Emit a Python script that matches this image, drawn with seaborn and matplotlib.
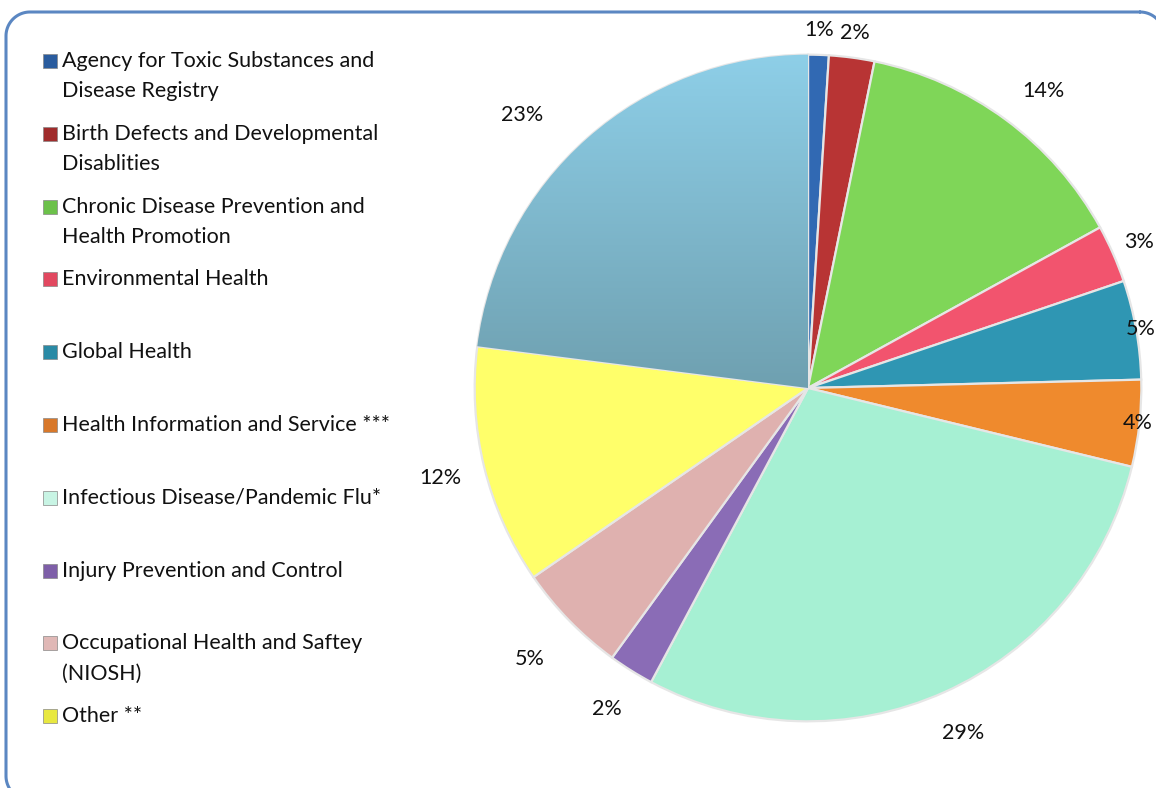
import matplotlib
matplotlib.use("Agg")
import matplotlib.pyplot as plt
import seaborn as sns
import numpy as np
from matplotlib.patches import Rectangle
from matplotlib.colors import LinearSegmentedColormap

# ---- data ----
categories = [
    "Agency for Toxic Substances and\nDisease Registry",
    "Birth Defects and Developmental\nDisablities",
    "Chronic Disease Prevention and\nHealth Promotion",
    "Environmental Health",
    "Global Health",
    "Health Information and Service ***",
    "Infectious Disease/Pandemic Flu*",
    "Injury Prevention and Control",
    "Occupational Health and Saftey\n(NIOSH)",
    "Other **",
    "",  # unlabeled slice (not shown in legend)
]
values = [1.0, 2.2, 13.8, 2.8, 4.8, 4.2, 29.0, 2.2, 5.4, 11.6, 23.0]
pct_labels = ["1%", "2%", "14%", "3%", "5%", "4%", "29%", "2%", "5%", "12%", "23%"]
colors = ["#3169B3", "#B83434", "#7FD658", "#F2546E", "#2F96B3", "#EF8A2D",
          "#A6F0D3", "#8A6CB6", "#DFB1AF", "#FFFF6A", "#80BBD2"]
legend_colors = ["#2A5C9E", "#A02C2C", "#6CC14A", "#E24860", "#2A8AA5", "#D8782A",
                 "#C8F4E4", "#7E5FA8", "#E0B8B6", "#E8E840"]
label_dist = [1.07, 1.07, 1.13, 1.08, 1.01, 0.99, 1.13, 1.13, 1.16, 1.13, 1.18]
label_rot = [0, 0, -2, 0, 0, 0, 0, 0, 0, 0, 5]   # angular nudge (deg)

sns.set_theme(style="white")
plt.rcParams['font.family'] = ['Lato', 'DejaVu Sans']
FS = 15.5

W, H = 1156, 788
fig = plt.figure(figsize=(W / 100, H / 100), dpi=100)
fig.patch.set_facecolor("white")

# background axes in pixel units for frame + legend
bg = fig.add_axes([0, 0, 1, 1], zorder=0)
bg.set_xlim(0, W)
bg.set_ylim(H, 0)
bg.axis("off")

# rounded frame (extends past right/bottom edges as in the original)
x0f, y0f, x1f, y1f, rr = 6, 12, 1164, 800, 24
def arc(cxa, cya, a0, a1):
    t = np.deg2rad(np.linspace(a0, a1, 30))
    return cxa + rr * np.cos(t), cya - rr * np.sin(t)
segs = [arc(x1f - rr, y0f + rr, 90, 0), arc(x1f - rr, y1f - rr, 0, -90),
        arc(x0f + rr, y1f - rr, -90, -180), arc(x0f + rr, y0f + rr, 180, 90)]
fx = np.concatenate([s[0] for s in segs] + [[x1f - rr]])
fy = np.concatenate([s[1] for s in segs] + [[y0f]])
bg.plot(fx, fy, color="#5B87C2", lw=2.2, solid_capstyle="round", clip_on=False)

cx, cy, R = 808, 388, 335
ax = fig.add_axes([(cx - R) / W, (H - cy - R) / H, 2 * R / W, 2 * R / H], zorder=1)
pal = sns.color_palette(colors)
wedges, texts = ax.pie(values, colors=pal, startangle=90, counterclock=False,
                       radius=0.995,
                       wedgeprops=dict(edgecolor="#E6E6E6", linewidth=1.6),
                       labels=pct_labels, labeldistance=1.1,
                       textprops=dict(fontsize=FS, color="#111111"))
for w, t, d, r in zip(wedges, texts, label_dist, label_rot):
    ang = np.deg2rad((w.theta1 + w.theta2) / 2 + r)
    t.set_position((d * np.cos(ang), d * np.sin(ang)))
    t.set_ha("center")
    t.set_va("center")
    t.set_clip_on(False)

# vertical shading on the large light-blue slice
cmap = LinearSegmentedColormap.from_list("sh", ["#6E9FAF", "#8ECFE8"])
grad = np.linspace(0, 1, 256).reshape(-1, 1)
im = ax.imshow(grad, extent=[-1, 0.05, -0.02, 1.0], origin="lower", cmap=cmap,
               aspect="auto", zorder=1.5)
im.set_clip_path(wedges[-1])

ax.set_xlim(-1, 1)
ax.set_ylim(-1, 1)
ax.set_aspect("equal")
ax.axis("off")

# ---- legend ----
y0, step = 61, 72.8
for i, (lab, col) in enumerate(zip(categories[:10], legend_colors)):
    yc = y0 + i * step
    bg.add_patch(Rectangle((43, yc - 7), 14, 14, facecolor=col,
                           edgecolor="#888888", linewidth=0.5))
    for j, line in enumerate(lab.split("\n")):
        bg.text(62, yc + j * 30, line, fontsize=FS,
                ha="left", va="center", color="#111111")

fig.savefig("out.png", dpi=100)
